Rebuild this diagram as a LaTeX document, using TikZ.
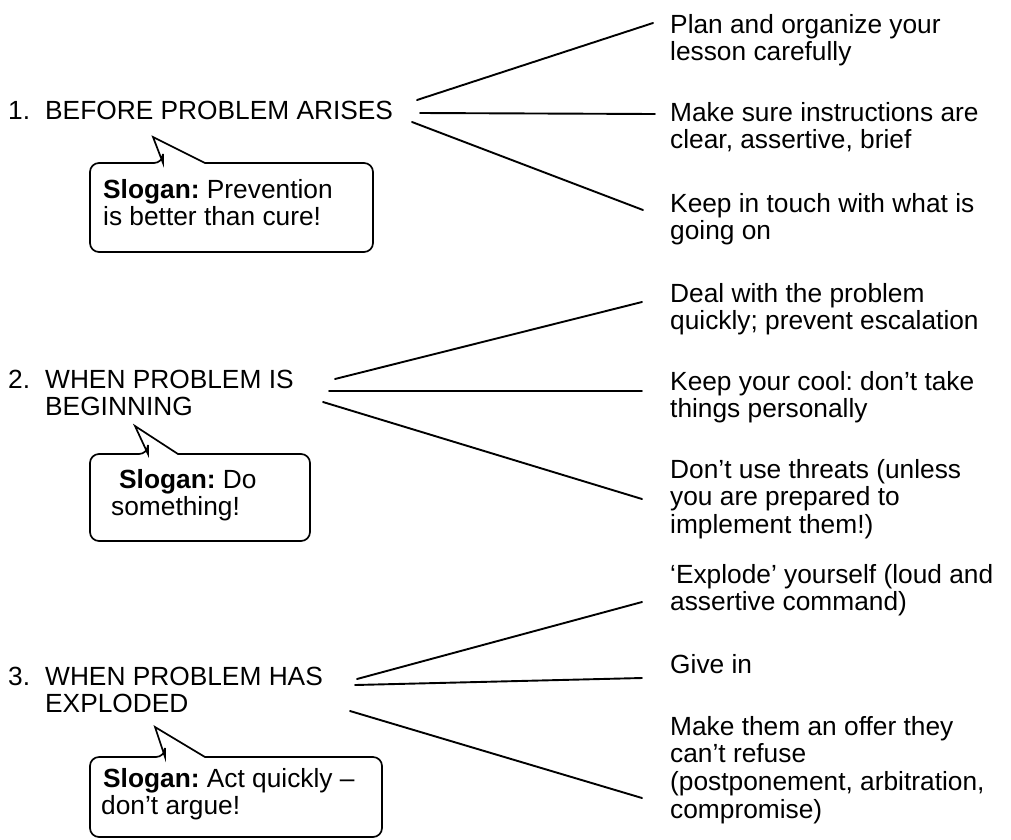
\documentclass[tikz,border=0pt]{standalone}
\usepackage{fontspec}
\setmainfont{Liberation Sans}
\frenchspacing
\newcommand\mlines[1]{\begin{tabular}[t]{@{}l@{}}#1\end{tabular}}
\newcommand\numbox[1]{\makebox[37pt][l]{#1}}
\begin{document}
\begin{tikzpicture}[x=1pt,y=-1pt,
  txt/.style={anchor=base west, inner sep=0pt, font=\fontsize{26.3}{27.7}\selectfont\frenchspacing},
  conn/.style={line width=1.9pt, line cap=round},
  callout/.style={line width=1.7pt, fill=white, line join=miter}]
\useasboundingbox (0,0) rectangle (1011,839);

% headings
\node[txt] (h1) at (8,119) {\numbox{1.}BEFORE PROBLEM ARISES};
\node[txt] (h2) at (8,388) {\mlines{\numbox{2.}WHEN PROBLEM IS\\\hspace*{37pt}BEGINNING}};
\node[txt] (h3) at (8,685) {\mlines{\numbox{3.}WHEN PROBLEM HAS\\\hspace*{37pt}EXPLODED}};

% items group 1
\node[txt] (i1a) at (670,33) {\mlines{Plan and organize your\\lesson carefully}};
\node[txt] (i1b) at (670,121) {\mlines{Make sure instructions are\\clear, assertive, brief}};
\node[txt] (i1c) at (670,212) {\mlines{Keep in touch with what is\\going on}};
% items group 2
\node[txt] (i2a) at (670,302) {\mlines{Deal with the problem\\quickly; prevent escalation}};
\node[txt] (i2b) at (670,390) {\mlines{Keep your cool: don’t take\\things personally}};
\node[txt] (i2c) at (670,478) {\mlines{Don’t use threats (unless\\you are prepared to\\implement them!)}};
% items group 3
\node[txt] (i3a) at (670,583) {\mlines{‘Explode’ yourself (loud and\\assertive command)}};
\node[txt] (i3b) at (670,673) {Give in};
\node[txt] (i3c) at (670,735) {\mlines{Make them an offer they\\can’t refuse\\(postponement, arbitration,\\compromise)}};

% connector end points
\coordinate (s1a) at (417,100); \coordinate (e1a) at (653,23);
\coordinate (s1b) at (420,113); \coordinate (e1b) at (655,114);
\coordinate (s1c) at (412,122); \coordinate (e1c) at (643,210);
\coordinate (s2a) at (335,379); \coordinate (e2a) at (642,302);
\coordinate (s2b) at (329,391); \coordinate (e2b) at (642,391);
\coordinate (s2c) at (323,402); \coordinate (e2c) at (642,499);
\coordinate (s3a) at (357,679); \coordinate (e3a) at (642,602);
\coordinate (s3b) at (355,685); \coordinate (e3b) at (642,678);
\coordinate (s3c) at (350,711); \coordinate (e3c) at (642,798);

\foreach \g in {1,2,3}{
  \foreach \k in {a,b,c}{
    \draw[conn] (s\g\k) -- (e\g\k);
  }
}

% callouts
\draw[callout] (163,163) -- (153,137) -- (205,163) -- (207,163)
  [rounded corners=9pt] -- (373,163) -- (373,252) -- (90,252) -- (90,163) -- (163,163) [sharp corners] -- cycle;
\node[txt] (c1) at (103,198) {\mlines{\textbf{Slogan:} Prevention\\is better than cure!}};

\draw[callout] (148,454) -- (135,426) -- (178,454) -- (180,454)
  [rounded corners=9pt] -- (310,454) -- (310,541) -- (90,541) -- (90,454) -- (148,454) [sharp corners] -- cycle;
\node[txt] (c2) at (111,488) {\mlines{\hspace*{8pt}\textbf{Slogan:} Do\\something!}};

\draw[callout] (165,757) -- (155,727) -- (205,757) -- (207,757)
  [rounded corners=9pt] -- (382,757) -- (382,837) -- (90,837) -- (90,757) -- (165,757) [sharp corners] -- cycle;
\node[txt] (c3) at (101,787) {\mlines{\hspace*{2pt}\textbf{Slogan:} Act quickly –\\don’t argue!}};
\end{tikzpicture}
\end{document}
